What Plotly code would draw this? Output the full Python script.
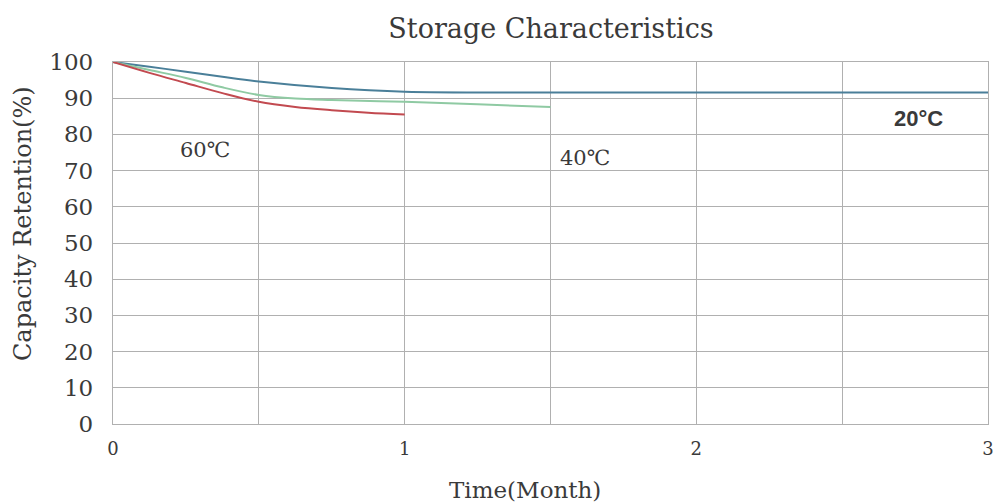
import plotly.graph_objects as go

# Time (months) and capacity retention (%)
t20 = [0, 0.125, 0.25, 0.375, 0.5, 0.75, 1.0, 1.5, 2.0, 2.5, 3.0]
c20 = [100, 98.7, 97.3, 95.9, 94.6, 92.8, 91.8, 91.6, 91.6, 91.6, 91.6]
t40 = [0, 0.125, 0.25, 0.375, 0.5, 0.625, 0.75, 1.0, 1.25, 1.5]
c40 = [100, 97.8, 95.6, 93.0, 90.9, 89.9, 89.5, 89.0, 88.3, 87.6]
t60 = [0, 0.125, 0.25, 0.375, 0.5, 0.625, 0.75, 0.875, 1.0]
c60 = [100, 97.0, 94.2, 91.4, 89.0, 87.6, 86.7, 86.0, 85.5]

x_tickvals = [0, 0.5, 1, 1.5, 2, 2.5, 3]
x_ticktext = ["0", "", "1", "", "2", "", "3"]
y_tickvals = [0, 10, 20, 30, 40, 50, 60, 70, 80, 90, 100]

labels = ["60℃", "40℃", "20°C"]
label_x = [0.315, 1.618, 2.76]
label_y = [75.7, 73.5, 84.5]

serif = "DejaVu Serif, serif"
sans = "Liberation Sans, Arial, sans-serif"
txt_col = "#3a3a3a"

fig = go.Figure()
fig.add_trace(go.Scatter(x=t20, y=c20, mode="lines", line=dict(color="#4a7f99", width=2, shape="spline"), name="20℃"))
fig.add_trace(go.Scatter(x=t40, y=c40, mode="lines", line=dict(color="#8fcaa3", width=2, shape="spline"), name="40℃"))
fig.add_trace(go.Scatter(x=t60, y=c60, mode="lines", line=dict(color="#c24a50", width=2, shape="spline"), name="60℃"))

fonts = [dict(family=serif, size=21, color=txt_col), dict(family=serif, size=21, color=txt_col),
         dict(family=sans, size=22, color=txt_col, weight="bold")]
for txt, xx, yy, f in zip(labels, label_x, label_y, fonts):
    fig.add_annotation(x=xx, y=yy, text=txt, showarrow=False, font=f)

# axis titles placed as paper annotations
fig.add_annotation(xref="paper", yref="paper", x=(525 - 113) / 875, y=-(490 - 424) / 362,
                   text="Time(Month)", showarrow=False, xanchor="center", yanchor="middle",
                   font=dict(family=serif, size=23, color=txt_col))
fig.add_annotation(xref="paper", yref="paper", x=-(113 - 23) / 875, y=(424 - 224) / 362,
                   text="Capacity Retention(%)", showarrow=False, textangle=-90,
                   xanchor="center", yanchor="middle",
                   font=dict(family=serif, size=24, color=txt_col))

fig.update_layout(
    width=997, height=503,
    margin=dict(l=113, r=9, t=62, b=79),
    plot_bgcolor="white", paper_bgcolor="white",
    showlegend=False,
    title=dict(text="Storage Characteristics", x=551 / 997, xanchor="center", y=1 - 29 / 503, yanchor="middle",
               font=dict(family=serif, size=27, color=txt_col)),
    font=dict(family=serif, color=txt_col),
)
fig.update_xaxes(range=[0, 3], tickvals=x_tickvals, ticktext=x_ticktext, showgrid=True,
                 gridcolor="#b0b0b0", gridwidth=1.3, showline=True, linecolor="#b0b0b0", linewidth=1.3,
                 mirror=True, zeroline=False, ticks="", ticklabelstandoff=8, automargin=False,
                 tickfont=dict(family=serif, size=18, color=txt_col))
fig.update_yaxes(range=[0, 100], tickvals=y_tickvals, showgrid=True,
                 gridcolor="#b0b0b0", gridwidth=1.3, showline=True, linecolor="#b0b0b0", linewidth=1.3,
                 mirror=True, zeroline=False, ticks="", ticklabelstandoff=14, automargin=False,
                 tickfont=dict(family=serif, size=23, color=txt_col))

fig.write_html("out.html", config={"displayModeBar": False},
               post_script="document.body.style.margin='0px';document.body.style.overflow='hidden';")
